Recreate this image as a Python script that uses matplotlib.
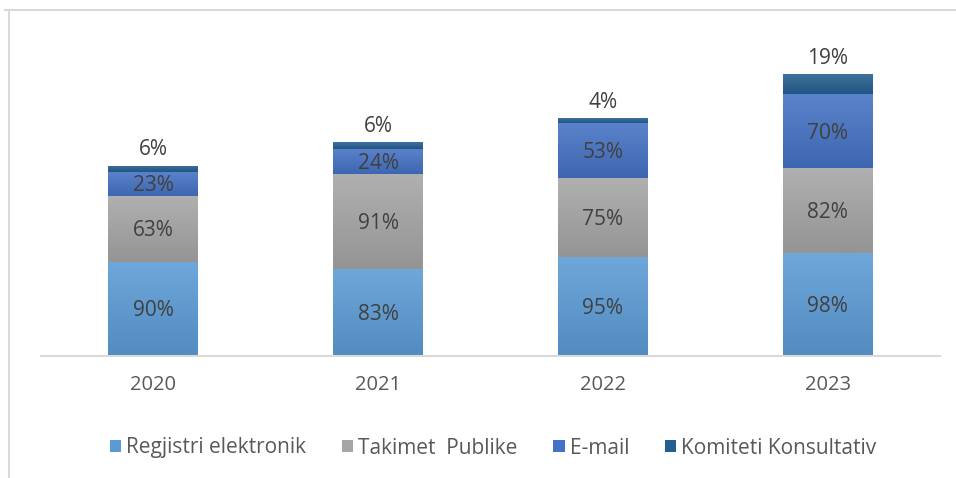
import numpy as np
import matplotlib.pyplot as plt
from matplotlib.lines import Line2D
from matplotlib.colors import to_rgb

years = ['2020', '2021', '2022', '2023']
series = ['Regjistri elektronik', 'Takimet  Publike', 'E-mail', 'Komiteti Konsultativ']
regjistri = [90, 83, 95, 98]
takimet = [63, 91, 75, 82]
email = [23, 24, 53, 70]
komiteti = [6, 6, 4, 19]

colors = ['#5B9BD5', '#A5A5A5', '#4472C4', '#255E91']
txt = '#404040'

plt.rcParams['font.family'] = ['Open Sans', 'DejaVu Sans']


def gradient(ax, bar, col):
    # excel-like vertical gradient: lighter top, darker bottom
    c = np.array(to_rgb(col))
    top = c + (1 - c) * 0.12
    bot = c * 0.9
    t = np.linspace(0, 1, 64)[:, None]
    img = (top * (1 - t) + bot * t)[:, None, :]
    x0, y0 = bar.get_x(), bar.get_y()
    im = ax.imshow(img, extent=[x0, x0 + bar.get_width(), y0, y0 + bar.get_height()],
                   aspect='auto', origin='upper', zorder=2)
    im.set_clip_path(bar)


fig = plt.figure(figsize=(9.56, 4.78), dpi=100)
ax = fig.add_axes([41 / 956, (478 - 356) / 478, 899 / 956, 314 / 478])

x = np.arange(len(years))
bottom = np.zeros(len(years))
data = [regjistri, takimet, email, komiteti]
for i, (vals, name) in enumerate(zip(data, series)):
    bars = ax.bar(x, vals, 0.4, bottom=bottom, color=colors[i], label=name,
                  linewidth=0, zorder=1)
    for b, v in zip(bars, vals):
        gradient(ax, b, colors[i])
        cx = b.get_x() + b.get_width() / 2
        if i == 3:
            ax.annotate(f'{v}%', (cx, b.get_y() + b.get_height()),
                        xytext=(0, 4), textcoords='offset points',
                        ha='center', va='bottom', fontsize=15, color=txt, zorder=3)
        else:
            ax.text(cx, b.get_y() + b.get_height() / 2 - 2, f'{v}%',
                    ha='center', va='center', fontsize=15, color=txt, zorder=3)
    bottom += np.array(vals)

ax.set_xlim(-0.5, 3.5)
ax.set_ylim(0, 300)
ax.set_xticks(x)
ax.set_xticklabels(years, fontsize=14.5, color='#595959')
ax.tick_params(axis='x', length=0, pad=14)
ax.set_yticks([])
for s in ['top', 'right', 'left']:
    ax.spines[s].set_visible(False)
ax.spines['bottom'].set_color('#D9D9D9')
ax.spines['bottom'].set_linewidth(1.5)

# chart frame (top and left edges visible in the crop)
fig.add_artist(Line2D([5 / 956, 1], [1 - 10 / 478] * 2, color='#D9D9D9', lw=1.5))
fig.add_artist(Line2D([9 / 956] * 2, [0, 1 - 10 / 478], color='#D9D9D9', lw=1.5))

leg = fig.legend(loc='center', bbox_to_anchor=(493 / 956, 1 - 448 / 478), ncol=4,
                 frameon=False, fontsize=15, handlelength=0.55, handleheight=0.55,
                 handletextpad=0.25, columnspacing=1.7)
for t in leg.get_texts():
    t.set_color('#595959')

fig.savefig('out.png', dpi=100)
